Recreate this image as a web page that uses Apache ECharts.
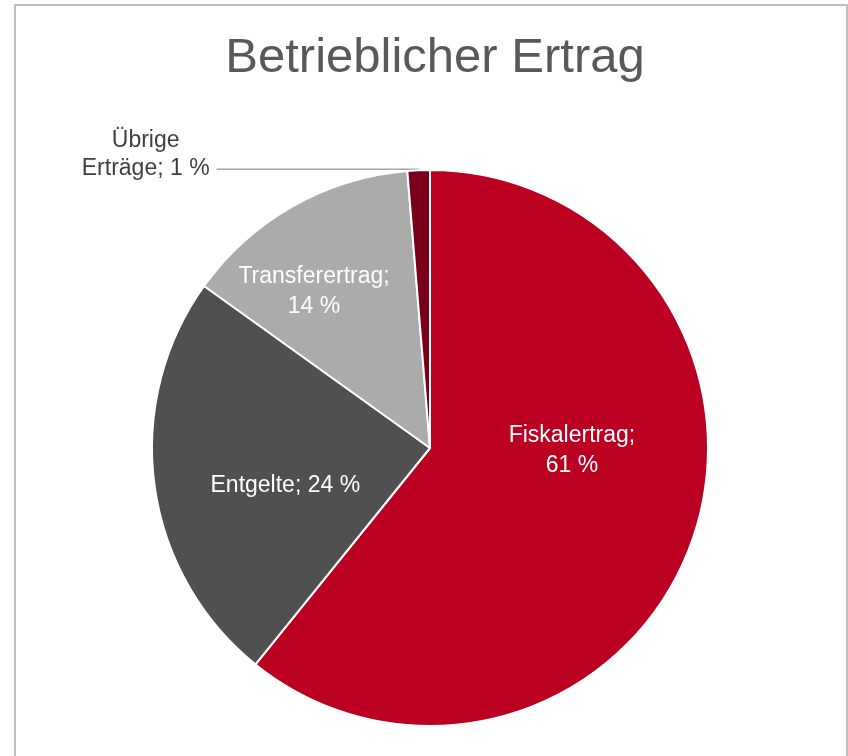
<!DOCTYPE html>
<html>
<head>
<meta charset="utf-8">
<script src="https://cdn.jsdelivr.net/npm/echarts@6/dist/echarts.min.js"></script>
<style>
  html, body { margin: 0; padding: 0; background: #fff; }
  #chart { width: 848px; height: 756px; }
</style>
</head>
<body>
<div id="chart"></div>
<script>
// Betrieblicher Ertrag, Anteile in %
const categories = ['Fiskalertrag', 'Entgelte', 'Transferertrag', 'Übrige Erträge']
const shares = [60.8, 24.1, 13.8, 1.3]
const colors = ['#BC0022', '#505050', '#ABABAB', '#7A0019']

// label nudges (dx, dy) so text sits where Excel puts it
const nudges = [[8, -45], [-4, 19], [-46, -33], [0, 0]]

const chart = echarts.init(document.getElementById('chart'))

chart.setOption({
    animation: false,
    title: {
        text: 'Betrieblicher Ertrag',
        left: 430,
        top: 29,
        textAlign: 'center',
        textStyle: {
            fontFamily: 'Liberation Sans',
            fontSize: 49,
            fontWeight: 'normal',
            color: '#595959'
        }
    },
    graphic: [{
        type: 'rect',
        shape: {x: 15, y: 5, width: 832, height: 760},
        style: {fill: 'none', stroke: '#BFBFBF', lineWidth: 2},
        silent: true
    }],
    series: [{
        type: 'pie',
        center: [430, 448],
        radius: [0, 278],
        startAngle: 90,
        clockwise: true,
        percentPrecision: 0,
        itemStyle: {borderColor: '#fff', borderWidth: 2},
        label: {
            position: 'inside',
            formatter: '{b};\n{d} %',
            color: '#fff',
            fontFamily: 'Liberation Sans',
            fontSize: 23,
            lineHeight: 30
        },
        labelLayout: (p) => ({dx: nudges[p.dataIndex][0], dy: nudges[p.dataIndex][1]}),
        data: categories.map((name, i) => {
            const item = {name: name, value: shares[i], itemStyle: {color: colors[i]}}
            if (i === 1) {
                item.label = {formatter: '{b}; {d} %'}
            }
            if (i === 3) {
                item.label = {
                    position: 'outside',
                    formatter: '{c|Übrige}\n{c|Erträge; {d} %}',
                    color: '#404040',
                    align: 'right',
                    padding: [0, 2, 30, 0],
                    rich: {
                        c: {
                            align: 'center',
                            color: '#404040',
                            fontFamily: 'Liberation Sans',
                            fontSize: 23,
                            lineHeight: 28
                        }
                    }
                }
                item.labelLine = {
                    show: true,
                    length: 1,
                    length2: 202,
                    lineStyle: {color: '#A6A6A6', width: 1.5}
                }
            }
            return item
        })
    }]
})
</script>
</body>
</html>
